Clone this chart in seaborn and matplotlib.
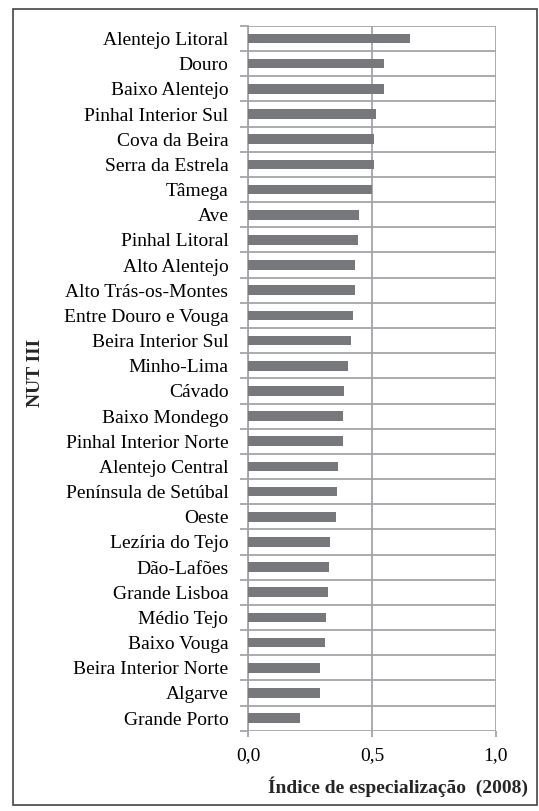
import matplotlib
matplotlib.use("Agg")
import matplotlib.pyplot as plt
import seaborn as sns
import pandas as pd
from matplotlib.ticker import FixedLocator, FuncFormatter
from matplotlib.patches import Rectangle

regions = ["Alentejo Litoral", "Douro", "Baixo Alentejo", "Pinhal Interior Sul",
           "Cova da Beira", "Serra da Estrela", "Tâmega", "Ave", "Pinhal Litoral",
           "Alto Alentejo", "Alto Trás-os-Montes", "Entre Douro e Vouga",
           "Beira Interior Sul", "Minho-Lima", "Cávado", "Baixo Mondego",
           "Pinhal Interior Norte", "Alentejo Central", "Península de Setúbal",
           "Oeste", "Lezíria do Tejo", "Dão-Lafões", "Grande Lisboa", "Médio Tejo",
           "Baixo Vouga", "Beira Interior Norte", "Algarve", "Grande Porto"]
values = [0.654, 0.550, 0.547, 0.518, 0.510, 0.508, 0.500, 0.449, 0.445,
          0.433, 0.431, 0.422, 0.417, 0.402, 0.389, 0.382, 0.382, 0.364,
          0.361, 0.355, 0.332, 0.327, 0.324, 0.315, 0.312, 0.292, 0.292, 0.210]
x_ticks = [0.0, 0.5, 1.0]

df = pd.DataFrame({"region": regions, "value": values})

sns.set_theme(style="white")
plt.rcParams['font.family'] = ['Liberation Serif', 'DejaVu Serif']

fig = plt.figure(figsize=(5.39, 8.11), dpi=100)
ax = fig.add_axes([0.460, 0.099, 0.460, 0.869])

sns.barplot(data=df, x="value", y="region", orient="h", color="#77787c",
            saturation=1, width=0.38, linewidth=0, ax=ax, zorder=3)

grid_col = "#a5a5a9"
ax.set_xlim(0, 1.0)
ax.set_ylim(len(regions) - 0.5, -0.5)
ax.set_xticks(x_ticks)
ax.xaxis.set_major_formatter(FuncFormatter(lambda v, p: f"{v:.1f}".replace(".", ",")))
ax.yaxis.set_minor_locator(FixedLocator([i - 0.5 for i in range(len(regions) + 1)]))
ax.grid(axis="x", which="major", color=grid_col, linewidth=1.3, zorder=0)
ax.grid(axis="y", which="minor", color=grid_col, linewidth=1.3, zorder=0)
ax.tick_params(axis="y", which="major", length=0, labelsize=14, pad=14, colors="black")
ax.tick_params(axis="y", which="minor", length=6, width=1.3, color=grid_col, left=True)
ax.tick_params(axis="x", which="major", length=4, width=1.3, color=grid_col,
               bottom=True, labelsize=14, pad=8, labelcolor="black")
for s in ["top", "right", "bottom"]:
    ax.spines[s].set_visible(False)
ax.spines["left"].set_color(grid_col)
ax.spines["left"].set_linewidth(1.3)

ax.set_ylabel("")
ax.set_xlabel("")
fig.text(0.065, 0.54, "NUT III", rotation=90, ha="center", va="center",
         fontsize=14, fontweight="bold")
fig.text(0.98, 0.030, "Índice de especialização  (2008)", ha="right", va="center",
         fontsize=14, fontweight="bold")

fig.patches.append(Rectangle((0.024, 0.007), 0.972, 0.982, transform=fig.transFigure,
                             fill=False, edgecolor="#444444", linewidth=1.2))

fig.savefig("out.png", dpi=100)
